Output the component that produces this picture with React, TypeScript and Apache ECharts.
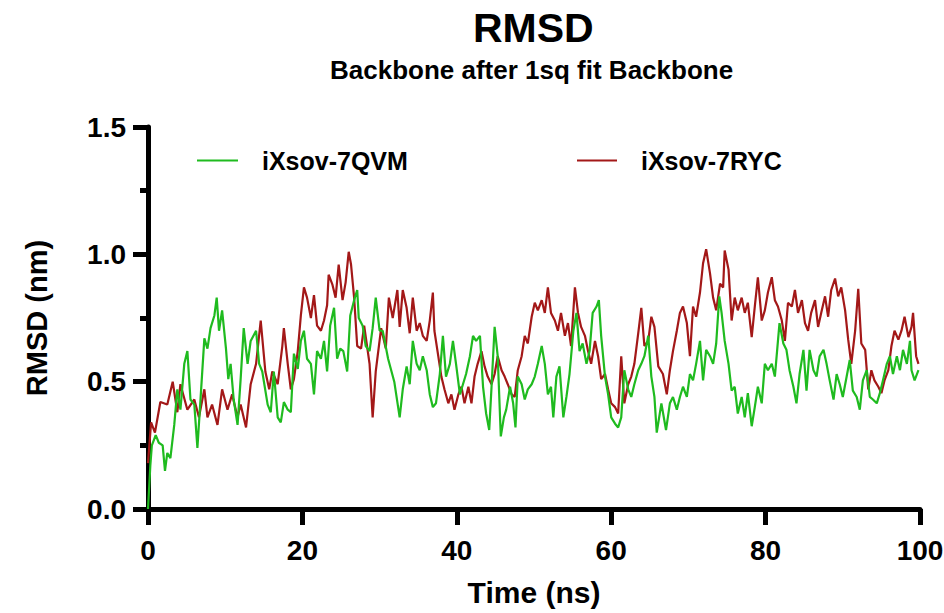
import React, { useEffect, useRef } from "react";
import * as echarts from "echarts";

const FONT = "'Liberation Sans', Arial, Helvetica, sans-serif";

const titleText = "RMSD";
const subtitleText = "Backbone after 1sq fit Backbone";
const xAxisName = "Time (ns)";
const yAxisName = "RMSD (nm)";
const seriesNames = ["iXsov-7QVM", "iXsov-7RYC"];
const seriesColors = ["#1fbb1f", "#a31818"];

const greenTime = [
  0, 0.3, 0.5, 1.0, 1.4, 1.9, 2.2, 2.5, 2.9, 3.4, 3.8, 4.2, 4.7, 5.1, 5.5, 6.0, 6.4, 6.8, 7.3, 7.7,
  8.1, 8.6, 8.9, 9.2, 9.6, 10.1, 10.4, 10.7, 11.1, 11.6, 12.0, 12.4, 12.9, 13.3, 14.0, 14.4, 14.8, 15.5, 15.9, 16.3,
  16.8, 17.2, 17.6, 18.1, 18.5, 18.9, 19.4, 19.8, 20.2, 20.6, 21.1, 21.5, 21.9, 22.4, 22.8, 23.2, 23.6, 24.1, 24.5, 24.9,
  25.3, 25.8, 26.2, 26.7, 27.1, 27.3, 27.8, 28.2, 28.7, 29.1, 29.5, 30.0, 30.4, 31.1, 31.9, 32.6, 33.0, 33.5, 33.9, 34.3,
  34.8, 35.2, 35.6, 36.1, 36.5, 36.9, 37.3, 37.8, 38.2, 38.6, 39.1, 39.5, 39.9, 40.4, 40.8, 41.2, 41.7, 42.1, 42.5, 43.0,
  43.4, 43.8, 44.2, 44.5, 44.9, 45.3, 45.7, 46.1, 46.4, 46.9, 47.3, 47.6, 47.9, 48.4, 48.8, 49.2, 49.7, 50.1, 50.5, 51.0,
  51.4, 51.8, 52.2, 52.5, 52.9, 53.3, 53.8, 54.2, 54.6, 55.1, 55.5, 55.9, 56.3, 56.8, 57.2, 57.6, 58.1, 58.4, 58.7, 59.2,
  59.6, 60.0, 60.5, 60.9, 61.3, 61.7, 62.2, 62.6, 63.0, 63.5, 63.9, 64.3, 64.8, 65.2, 65.6, 65.9, 66.5, 67.1, 67.6, 68.0,
  68.5, 68.9, 69.3, 69.8, 70.2, 70.6, 71.0, 71.5, 71.9, 72.3, 72.8, 73.2, 73.6, 74.0, 74.3, 74.7, 75.2, 75.6, 76.0, 76.4,
  76.9, 77.3, 77.7, 78.2, 78.6, 79.0, 79.5, 79.9, 80.3, 80.8, 81.2, 81.6, 81.8, 82.3, 82.7, 83.1, 83.6, 84.0, 84.4, 84.9,
  85.3, 85.7, 86.2, 86.6, 87.0, 87.5, 87.9, 88.3, 88.8, 89.2, 89.6, 90.0, 90.5, 90.9, 91.3, 91.8, 92.2, 92.6, 93.1, 93.5,
  93.9, 94.4, 94.8, 95.2, 95.7, 96.1, 96.5, 97.0, 97.4, 97.8, 98.3, 98.7, 98.9, 99.3, 99.8,
];
const greenRmsd = [
  0.0, 0.17, 0.25, 0.29, 0.26, 0.25, 0.15, 0.22, 0.2, 0.33, 0.47, 0.39, 0.57, 0.62, 0.43, 0.41, 0.24, 0.43, 0.67, 0.63,
  0.71, 0.76, 0.83, 0.7, 0.78, 0.63, 0.51, 0.57, 0.43, 0.33, 0.51, 0.71, 0.57, 0.66, 0.7, 0.57, 0.54, 0.41, 0.38, 0.54,
  0.36, 0.34, 0.42, 0.39, 0.38, 0.61, 0.55, 0.66, 0.7, 0.59, 0.57, 0.45, 0.62, 0.59, 0.66, 0.54, 0.72, 0.79, 0.59, 0.63,
  0.62, 0.54, 0.76, 0.82, 0.86, 0.75, 0.72, 0.64, 0.62, 0.71, 0.83, 0.7, 0.7, 0.59, 0.5, 0.36, 0.47, 0.56, 0.49, 0.66,
  0.57, 0.545, 0.6, 0.545, 0.45, 0.4, 0.415, 0.53, 0.68, 0.52, 0.57, 0.66, 0.57, 0.45, 0.49, 0.53, 0.6, 0.68, 0.66, 0.68,
  0.48, 0.375, 0.31, 0.48, 0.715, 0.6, 0.285, 0.36, 0.39, 0.48, 0.415, 0.32, 0.52, 0.49, 0.43, 0.47, 0.49, 0.52, 0.57, 0.64,
  0.57, 0.45, 0.48, 0.36, 0.52, 0.56, 0.36, 0.44, 0.53, 0.7, 0.77, 0.62, 0.65, 0.57, 0.62, 0.77, 0.795, 0.82, 0.68, 0.52,
  0.45, 0.36, 0.335, 0.32, 0.36, 0.545, 0.47, 0.44, 0.49, 0.545, 0.57, 0.6, 0.68, 0.52, 0.44, 0.3, 0.415, 0.31, 0.415, 0.44,
  0.39, 0.44, 0.48, 0.44, 0.53, 0.505, 0.57, 0.66, 0.505, 0.625, 0.6, 0.57, 0.65, 0.835, 0.77, 0.66, 0.57, 0.465, 0.48, 0.375,
  0.44, 0.36, 0.455, 0.325, 0.4, 0.48, 0.415, 0.57, 0.545, 0.57, 0.52, 0.66, 0.73, 0.65, 0.625, 0.545, 0.48, 0.415, 0.53, 0.625,
  0.465, 0.625, 0.545, 0.52, 0.6, 0.625, 0.57, 0.505, 0.43, 0.53, 0.49, 0.44, 0.52, 0.585, 0.465, 0.44, 0.39, 0.505, 0.545, 0.44,
  0.43, 0.415, 0.455, 0.505, 0.57, 0.6, 0.53, 0.6, 0.545, 0.625, 0.57, 0.66, 0.545, 0.505, 0.545,
];

const redTime = [
  0, 0.4, 0.9, 1.6, 2.5, 3.2, 3.8, 4.2, 5.1, 6.0, 6.6, 7.3, 7.7, 8.3, 9.0, 9.6, 10.3, 10.9, 11.6, 12.0,
  12.7, 13.3, 14.0, 14.6, 15.2, 15.7, 16.1, 16.8, 17.4, 17.6, 18.1, 18.5, 18.9, 19.4, 19.8, 20.2, 20.6, 21.1, 21.5, 21.9,
  22.4, 22.8, 23.2, 23.4, 23.9, 24.3, 24.7, 25.2, 25.6, 26.0, 26.3, 26.7, 27.1, 27.6, 28.0, 28.7, 29.1, 29.5, 30.2, 30.8,
  31.2, 31.7, 32.3, 32.6, 33.0, 33.5, 33.9, 34.3, 34.8, 35.2, 35.6, 36.1, 36.5, 36.9, 37.1, 37.6, 38.0, 38.4, 38.9, 39.3,
  39.7, 40.2, 40.6, 41.0, 41.5, 41.9, 42.3, 42.7, 43.2, 43.6, 44.0, 44.5, 44.9, 45.3, 45.8, 46.2, 46.6, 47.1, 47.5, 47.9,
  48.4, 48.8, 49.2, 49.7, 50.1, 50.5, 51.0, 51.4, 51.8, 52.2, 52.7, 53.1, 53.5, 54.0, 54.4, 54.8, 55.3, 55.7, 56.1, 56.6,
  57.0, 57.4, 57.9, 58.3, 58.7, 59.2, 59.6, 60.0, 60.5, 60.9, 61.3, 61.7, 62.2, 62.6, 63.0, 63.5, 63.9, 64.3, 64.8, 65.2,
  65.6, 66.1, 66.7, 67.2, 67.6, 68.0, 68.5, 68.9, 69.3, 69.8, 70.2, 70.6, 71.0, 71.5, 71.9, 72.3, 72.8, 73.2, 73.6, 74.1,
  74.5, 74.7, 75.2, 75.6, 76.0, 76.4, 76.9, 77.3, 77.7, 78.2, 78.6, 79.0, 79.5, 79.9, 80.3, 80.8, 81.2, 81.6, 82.1, 82.5,
  82.9, 83.4, 83.8, 84.2, 84.7, 85.1, 85.5, 85.9, 86.4, 86.8, 87.2, 87.7, 88.1, 88.5, 89.0, 89.4, 89.8, 90.3, 90.7, 91.1,
  91.6, 92.0, 92.4, 92.9, 93.3, 93.7, 94.1, 94.6, 95.0, 95.4, 95.9, 96.3, 96.7, 97.2, 97.6, 98.0, 98.5, 98.9, 99.1, 99.5,
  99.8,
];
const redRmsd = [
  0.18, 0.34, 0.3, 0.42, 0.41, 0.5, 0.38, 0.49, 0.39, 0.43, 0.36, 0.47, 0.36, 0.41, 0.33, 0.47, 0.39, 0.45, 0.36, 0.41,
  0.32, 0.49, 0.57, 0.74, 0.54, 0.47, 0.54, 0.49, 0.64, 0.71, 0.57, 0.47, 0.51, 0.62, 0.76, 0.87, 0.83, 0.75, 0.84, 0.72,
  0.7, 0.74, 0.8, 0.92, 0.88, 0.83, 0.96, 0.82, 0.89, 1.01, 0.96, 0.83, 0.64, 0.63, 0.72, 0.57, 0.36, 0.54, 0.71, 0.63,
  0.83, 0.75, 0.86, 0.715, 0.86, 0.79, 0.69, 0.83, 0.7, 0.73, 0.68, 0.66, 0.74, 0.85, 0.7, 0.6, 0.52, 0.47, 0.415, 0.45,
  0.39, 0.45, 0.48, 0.415, 0.48, 0.415, 0.52, 0.57, 0.62, 0.56, 0.52, 0.49, 0.53, 0.6, 0.545, 0.52, 0.49, 0.45, 0.44, 0.545,
  0.6, 0.68, 0.65, 0.755, 0.81, 0.78, 0.82, 0.77, 0.87, 0.77, 0.74, 0.7, 0.77, 0.68, 0.73, 0.64, 0.87, 0.77, 0.715, 0.68,
  0.62, 0.57, 0.66, 0.6, 0.51, 0.53, 0.47, 0.415, 0.4, 0.375, 0.6, 0.415, 0.49, 0.52, 0.57, 0.69, 0.79, 0.64, 0.66, 0.755,
  0.715, 0.56, 0.53, 0.45, 0.545, 0.62, 0.7, 0.77, 0.795, 0.73, 0.6, 0.795, 0.755, 0.85, 0.965, 1.02, 0.925, 0.83, 0.78, 0.885,
  0.87, 1.015, 0.94, 0.74, 0.83, 0.78, 0.83, 0.77, 0.81, 0.675, 0.795, 0.91, 0.74, 0.78, 0.85, 0.91, 0.82, 0.795, 0.74, 0.66,
  0.81, 0.795, 0.86, 0.77, 0.82, 0.73, 0.7, 0.77, 0.82, 0.715, 0.77, 0.835, 0.755, 0.86, 0.905, 0.835, 0.87, 0.78, 0.665, 0.57,
  0.7, 0.865, 0.65, 0.625, 0.47, 0.545, 0.505, 0.48, 0.455, 0.505, 0.545, 0.64, 0.7, 0.665, 0.7, 0.755, 0.675, 0.715, 0.77, 0.6,
  0.57,
];

const xMin = 0;
const xMax = 100;
const xInterval = 20;
const yMin = 0;
const yMax = 1.5;
const yInterval = 0.5;

export default function App() {
  const ref = useRef<HTMLDivElement>(null);

  useEffect(() => {
    document.body.style.margin = "0";
    if (!ref.current) return;
    const chart = echarts.init(ref.current, null, { renderer: "svg" });
    const pair = (t: number[], v: number[]) => t.map((x, i) => [x, v[i]]);
    const axisColor = "#000";
    const legendText = {
      fontFamily: FONT,
      fontSize: 25,
      fontWeight: "bold",
      color: "#000",
      padding: [0, 0, 0, 19],
    };
    chart.setOption({
      animation: false,
      backgroundColor: "#fff",
      title: [
        {
          text: titleText,
          left: 468,
          top: 2,
          textStyle: { fontFamily: FONT, fontSize: 41, fontWeight: "bold", color: "#000" },
        },
        {
          text: subtitleText,
          left: 325,
          top: 52,
          textStyle: { fontFamily: FONT, fontSize: 26, fontWeight: "bold", color: "#000" },
        },
      ],
      legend: [
        {
          data: [seriesNames[0]],
          left: 197,
          top: 148,
          padding: 0,
          icon: "rect",
          itemWidth: 41,
          itemHeight: 2,
          textStyle: legendText,
        },
        {
          data: [seriesNames[1]],
          left: 577,
          top: 148,
          padding: 0,
          icon: "rect",
          itemWidth: 40,
          itemHeight: 2,
          textStyle: legendText,
        },
      ],
      grid: {
        left: 148,
        right: 24,
        top: 127,
        bottom: 104,
        containLabel: false,
        outerBoundsMode: "none",
      },
      xAxis: {
        type: "value",
        min: xMin,
        max: xMax,
        interval: xInterval,
        name: xAxisName,
        nameLocation: "middle",
        nameGap: 68,
        nameTextStyle: { fontFamily: FONT, fontSize: 30, fontWeight: "bold", color: "#000" },
        axisLine: { show: true, onZero: false, lineStyle: { color: axisColor, width: 5 } },
        axisTick: { show: true, inside: false, length: 16, lineStyle: { color: axisColor, width: 5 } },
        axisLabel: { fontFamily: FONT, fontSize: 28, fontWeight: "bold", color: "#000", margin: 27 },
        splitLine: { show: false },
      },
      yAxis: {
        type: "value",
        min: yMin,
        max: yMax,
        interval: yInterval,
        name: yAxisName,
        nameLocation: "middle",
        nameGap: 97,
        nameTextStyle: { fontFamily: FONT, fontSize: 29, fontWeight: "bold", color: "#000" },
        axisLine: { show: true, onZero: false, lineStyle: { color: axisColor, width: 5 } },
        axisTick: { show: true, length: 15, lineStyle: { color: axisColor, width: 5 } },
        minorTick: { show: true, splitNumber: 2, length: 8, lineStyle: { color: axisColor, width: 5 } },
        axisLabel: {
          fontFamily: FONT,
          fontSize: 28,
          fontWeight: "bold",
          color: "#000",
          margin: 22,
          formatter: (v: number) => v.toFixed(1),
        },
        splitLine: { show: false },
      },
      series: [
        {
          name: seriesNames[0],
          type: "line",
          data: pair(greenTime, greenRmsd),
          showSymbol: false,
          symbol: "none",
          lineStyle: { color: seriesColors[0], width: 2.2 },
          itemStyle: { color: seriesColors[0] },
          z: 2,
        },
        {
          name: seriesNames[1],
          type: "line",
          data: pair(redTime, redRmsd),
          showSymbol: false,
          symbol: "none",
          lineStyle: { color: seriesColors[1], width: 2.2 },
          itemStyle: { color: seriesColors[1] },
          z: 1,
        },
      ],
    });
    return () => chart.dispose();
  }, []);

  return (
    <div
      ref={ref}
      style={{ position: "fixed", left: 0, top: 0, width: 944, height: 613, background: "#fff" }}
    />
  );
}
